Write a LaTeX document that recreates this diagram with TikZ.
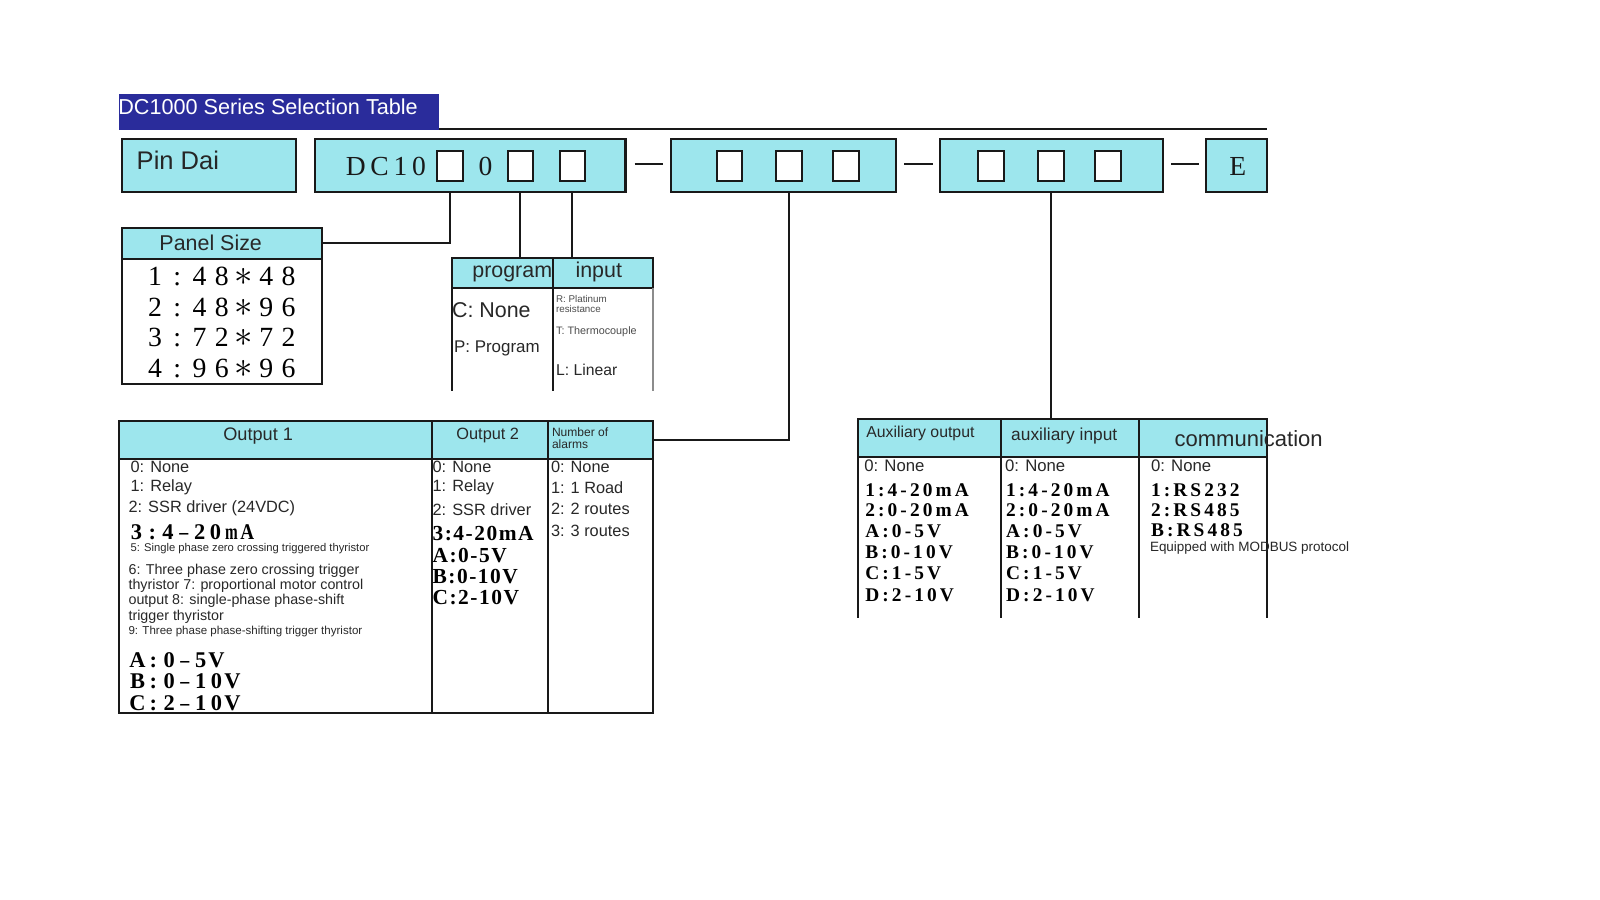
\documentclass[tikz,border=0pt]{standalone}
\usepackage{fontspec}
\usepackage{graphicx}
\setmainfont{Liberation Sans}
\newfontfamily\serrm{Liberation Serif}
\newfontfamily\serdc[LetterSpace=17]{Liberation Serif}
\newfontfamily\seraux[LetterSpace=16]{Liberation Serif}
\newfontfamily\serotwo[LetterSpace=7]{Liberation Serif}
\definecolor{boxcyan}{RGB}{157,230,237}
\definecolor{navybar}{RGB}{42,44,155}
\definecolor{txt}{RGB}{40,40,40}
\definecolor{ln}{RGB}{25,25,25}
\newlength\monow
\def\monoloop#1{\ifx\relax#1\else\makebox[\monow][c]{#1}\expandafter\monoloop\fi}
\newcommand\mono[2]{\setlength\monow{#1}\monoloop#2\relax}
\newcommand\fs[1]{\fontsize{#1}{#1}\selectfont}
\newcommand\astk{\scalebox{1.25}{$\ast$}}
\newcommand\nm{\scalebox{0.68}[1]{m}}
\newcommand\nA{\scalebox{0.85}[1]{A}}
\newcommand\dsh{\scalebox{0.8}[1]{–}}
\begin{document}
\begin{tikzpicture}[x=0.5pt,y=-0.5pt,
  line/.style={line width=1pt, draw=ln},
  cbox/.style={draw=ln, line width=1pt, fill=boxcyan, inner sep=0pt, outer sep=0pt},
  wbox/.style={draw=ln, line width=1pt, fill=white, inner sep=0pt, outer sep=0pt},
  nobox/.style={inner sep=0pt, outer sep=0pt},
  lbl/.style={inner sep=0pt, outer sep=0pt, anchor=west, text=txt},
  ctr/.style={inner sep=0pt, outer sep=0pt, text=txt},
  sqbox/.style={draw=ln, line width=1pt, fill=white, inner sep=0pt, outer sep=0pt, minimum width=12.5pt, minimum height=14.5pt},
]
\useasboundingbox[fill=white] (0,0) rectangle (1568,882);

% ---------- title ----------
\node[nobox, fill=navybar, minimum width=156.5pt, minimum height=17.5pt] (title) at (273.5,109.5) {};
\node[lbl, text=white] (titletext) at (116,105) {\fs{10.6pt}DC1000 Series Selection Table};

% ---------- code row ----------
\node[cbox, minimum width=85pt, minimum height=26pt] (pin) at (205,162) {};
\node[lbl, text=black!85] (pintext) at (134,157) {\fs{12.5pt}Pin Dai};

\node[cbox, minimum width=152pt, minimum height=26pt] (dcbox) at (461,162) {};
\node[lbl, text=black!90] (dctext) at (339,163) {\fs{13.5pt}\serdc DC10};
\node[sqbox] (sq1) at (441,162.5) {};
\node[lbl, text=black!90] (zero) at (469,163) {\fs{13.5pt}\serrm 0};
\node[sqbox] (sq2) at (510,162.5) {};
\node[sqbox] (sq3) at (561,162.5) {};

\node[cbox, minimum width=110pt, minimum height=26pt] (box2) at (768,162) {};
\node[sqbox] (b2a) at (715,162.5) {};
\node[sqbox] (b2b) at (773,162.5) {};
\node[sqbox] (b2c) at (829,162.5) {};

\node[cbox, minimum width=109.5pt, minimum height=26pt] (box3) at (1030.5,162) {};
\node[sqbox] (b3a) at (971,162.5) {};
\node[sqbox] (b3b) at (1030,162.5) {};
\node[sqbox] (b3c) at (1086,162.5) {};

\node[cbox, minimum width=30pt, minimum height=26pt] (ebox) at (1212,162) {};
\node[ctr, text=black!90] (etext) at (1213,163) {\fs{13.5pt}\serrm E};

\draw[line] ([yshift=0.5pt]title.south east) -- ([yshift=0.5pt]title.south east -| ebox.east);
\draw[line] ([xshift=4.5pt,yshift=0.5pt]dcbox.east) -- ([xshift=-4pt,yshift=0.5pt]box2.west);
\draw[line] ([xshift=4pt,yshift=0.5pt]box2.east) -- ([xshift=-3.5pt,yshift=0.5pt]box3.west);
\draw[line] ([xshift=4pt,yshift=0.5pt]box3.east) -- ([xshift=-3.5pt,yshift=0.5pt]ebox.west);

% ---------- panel size ----------
\node[wbox, minimum width=98pt, minimum height=61pt] (panelbody) at (218,315) {};
\node[cbox, minimum width=98pt, minimum height=15.5pt] (panelhead) at (218,238.5) {};
\node[ctr] (paneltext) at (206.5,238) {\fs{10.5pt}Panel Size};
\node[lbl, text=black] (ps1) at (141,271) {\fs{13.6pt}\serrm\mono{10.9pt}{1:48\astk48}};
\node[lbl, text=black] (ps2) at (141,301) {\fs{13.6pt}\serrm\mono{10.9pt}{2:48\astk96}};
\node[lbl, text=black] (ps3) at (141,331) {\fs{13.6pt}\serrm\mono{10.9pt}{3:72\astk72}};
\node[lbl, text=black] (ps4) at (141,361) {\fs{13.6pt}\serrm\mono{10.9pt}{4:96\astk96}};

% ---------- program / input ----------
\node[cbox, minimum width=49.5pt, minimum height=14.5pt] (proghead) at (492.5,267.5) {};
\node[cbox, minimum width=49pt, minimum height=14.5pt] (inhead) at (591,267.5) {};
\node[nobox, minimum width=49.5pt, minimum height=50.5pt] (progbody) at (492.5,332.5) {};
\node[nobox, minimum width=49pt, minimum height=50.5pt] (inbody) at (591,332.5) {};
\draw[line] (progbody.north west) -- (progbody.south west);
\draw[line] (inbody.north west) -- (inbody.south west);
\draw[line, draw=black!45] (inbody.north east) -- (inbody.south east);
\node[ctr] (progtext) at (502,268) {\fs{10.5pt}program};
\node[lbl] (intext) at (564,267) {\fs{10.5pt}input};
\node[lbl] (pc) at (443,304) {\fs{10.5pt}C: None};
\node[lbl] (pp) at (445,341) {\fs{8.3pt}P: Program};
\node[lbl, text=black!70] (ir1) at (545,293) {\fs{4.8pt}R: Platinum};
\node[lbl, text=black!70] (ir2) at (545,303) {\fs{4.8pt}resistance};
\node[lbl, text=black!70] (it) at (545,325) {\fs{5.3pt}T: Thermocouple};
\node[lbl] (il) at (545,362) {\fs{7.7pt}L: Linear};

% ---------- output table ----------
\node[wbox, minimum width=153pt, minimum height=124.5pt] (o1body) at (270,574.5) {};
\node[wbox, minimum width=57pt, minimum height=124.5pt] (o2body) at (480,574.5) {};
\node[wbox, minimum width=51.5pt, minimum height=124.5pt] (albody) at (588.5,574.5) {};
\node[cbox, minimum width=153pt, minimum height=18.5pt] (o1head) at (270,431.5) {};
\node[cbox, minimum width=57pt, minimum height=18.5pt] (o2head) at (480,431.5) {};
\node[cbox, minimum width=51.5pt, minimum height=18.5pt] (alhead) at (588.5,431.5) {};
\node[ctr] (o1t) at (253,427) {\fs{8.9pt}Output 1};
\node[ctr] (o2t) at (478,427) {\fs{8pt}Output 2};
\node[lbl] (alt1) at (541,424) {\fs{5.9pt}Number of};
\node[lbl] (alt2) at (541,435) {\fs{5.9pt}alarms};

\node[lbl] (a1) at (128,458) {\fs{8pt}0: None};
\node[lbl] (a2) at (128,478) {\fs{8pt}1: Relay};
\node[lbl] (a3) at (126,498) {\fs{8pt}2: SSR driver (24VDC)};
\node[lbl, text=black] (a4) at (126,522) {\fs{11pt}\serrm\bfseries\mono{7.75pt}{3:4\dsh20\nm\nA}};
\node[lbl] (a5) at (128,538) {\fs{5.5pt}5: Single phase zero crossing triggered thyristor};
\node[lbl] (a6) at (126,559) {\fs{7pt}6: Three phase zero crossing trigger};
\node[lbl] (a7) at (126,574) {\fs{7pt}thyristor 7: proportional motor control};
\node[lbl] (a8) at (126,589) {\fs{7pt}output 8: single-phase phase-shift};
\node[lbl] (a9) at (126,604) {\fs{7pt}trigger thyristor};
\node[lbl] (a10) at (126,619) {\fs{5.65pt}9: Three phase phase-shifting trigger thyristor};
\node[lbl, text=black] (a11) at (127,647) {\fs{11pt}\serrm\bfseries\mono{7.75pt}{A:0\dsh5V}};
\node[lbl, text=black] (a12) at (127,668) {\fs{11pt}\serrm\bfseries\mono{7.75pt}{B:0\dsh10V}};
\node[lbl, text=black] (a13) at (127,689) {\fs{11pt}\serrm\bfseries\mono{7.75pt}{C:2\dsh10V}};

\node[lbl] (b1) at (424,458) {\fs{8pt}0: None};
\node[lbl] (b2) at (424,478) {\fs{8pt}1: Relay};
\node[lbl] (b3) at (424,499) {\fs{8pt}2: SSR driver};
\node[lbl, text=black] (b4) at (424,523) {\fs{10.5pt}\serotwo\bfseries 3:4-20mA};
\node[lbl, text=black] (b5) at (424,544) {\fs{10.5pt}\serotwo\bfseries A:0-5V};
\node[lbl, text=black] (b6) at (424,565) {\fs{10.5pt}\serotwo\bfseries B:0-10V};
\node[lbl, text=black] (b7) at (424,586) {\fs{10.5pt}\serotwo\bfseries C:2-10V};

\node[lbl] (c1) at (540,458) {\fs{8pt}0: None};
\node[lbl] (c2) at (540,478) {\fs{8pt}1: 1 Road};
\node[lbl] (c3) at (540,499) {\fs{8pt}2: 2 routes};
\node[lbl] (c4) at (540,520) {\fs{8pt}3: 3 routes};

% ---------- auxiliary table ----------
\node[cbox, minimum width=70pt, minimum height=18.5pt] (axohead) at (911,429.5) {};
\node[cbox, minimum width=67.5pt, minimum height=18.5pt] (axihead) at (1048.5,429.5) {};
\node[cbox, minimum width=63pt, minimum height=18.5pt] (comhead) at (1179,429.5) {};
\node[nobox, minimum width=70pt, minimum height=79pt] (axobody) at (911,527) {};
\node[nobox, minimum width=67.5pt, minimum height=79pt] (axibody) at (1048.5,527) {};
\node[nobox, minimum width=63pt, minimum height=79pt] (combody) at (1179,527) {};
\draw[line] (axobody.north west) -- (axobody.south west);
\draw[line] (axibody.north west) -- (axibody.south west);
\draw[line] (combody.north west) -- (combody.south west);
\draw[line] (combody.north east) -- (combody.south east);
\node[lbl] (axot) at (849,425) {\fs{7.75pt}Auxiliary output};
\node[lbl] (axit) at (991,427) {\fs{8.5pt}auxiliary input};
\node[lbl] (comt) at (1151,430) {\fs{10.8pt}communication};

\node[lbl] (d0) at (847,456) {\fs{8.2pt}0: None};
\node[lbl, text=black] (d1) at (848,480) {\fs{9.5pt}\seraux\bfseries 1:4-20mA};
\node[lbl, text=black] (d2) at (848,500) {\fs{9.5pt}\seraux\bfseries 2:0-20mA};
\node[lbl, text=black] (d3) at (848,521) {\fs{9.5pt}\seraux\bfseries A:0-5V};
\node[lbl, text=black] (d4) at (848,541) {\fs{9.5pt}\seraux\bfseries B:0-10V};
\node[lbl, text=black] (d5) at (848,562) {\fs{9.5pt}\seraux\bfseries C:1-5V};
\node[lbl, text=black] (d6) at (848,583) {\fs{9.5pt}\seraux\bfseries D:2-10V};

\node[lbl] (e0) at (985,456) {\fs{8.2pt}0: None};
\node[lbl, text=black] (e1) at (986,480) {\fs{9.5pt}\seraux\bfseries 1:4-20mA};
\node[lbl, text=black] (e2) at (986,500) {\fs{9.5pt}\seraux\bfseries 2:0-20mA};
\node[lbl, text=black] (e3) at (986,521) {\fs{9.5pt}\seraux\bfseries A:0-5V};
\node[lbl, text=black] (e4) at (986,541) {\fs{9.5pt}\seraux\bfseries B:0-10V};
\node[lbl, text=black] (e5) at (986,562) {\fs{9.5pt}\seraux\bfseries C:1-5V};
\node[lbl, text=black] (e6) at (986,583) {\fs{9.5pt}\seraux\bfseries D:2-10V};

\node[lbl] (f0) at (1128,456) {\fs{8.2pt}0: None};
\node[lbl, text=black] (f1) at (1128,480) {\fs{9.5pt}\seraux\bfseries 1:RS232};
\node[lbl, text=black] (f2) at (1128,500) {\fs{9.5pt}\seraux\bfseries 2:RS485};
\node[lbl, text=black] (f3) at (1128,520) {\fs{9.5pt}\seraux\bfseries B:RS485};
\node[lbl] (f4) at (1127,537) {\fs{6.6pt}Equipped with MODBUS protocol};

% ---------- connectors ----------
\draw[line] (sq1 |- dcbox.south) |- (panelhead.east);
\draw[line] (sq2 |- dcbox.south) -- (sq2 |- proghead.north);
\draw[line] (sq3 |- dcbox.south) -- (sq3 |- inhead.north);
\draw[line] (b2b |- box2.south) |- (alhead.east);
\draw[line] (b3b |- box3.south) -- (b3b |- axihead.north);
\end{tikzpicture}
\end{document}
